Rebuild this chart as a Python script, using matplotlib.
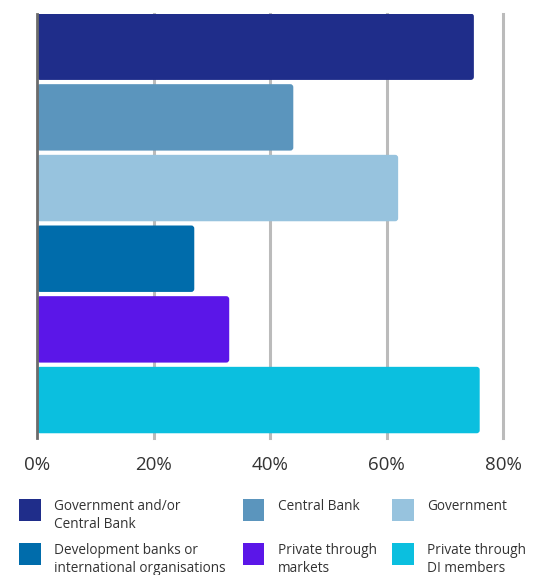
import matplotlib
matplotlib.use("Agg")
import matplotlib.pyplot as plt
from matplotlib.patches import FancyBboxPatch, Rectangle

plt.rcParams['font.family'] = ['Open Sans', 'DejaVu Sans']

# ---- данные ----
categories = [
    'Government and/or\nCentral Bank',
    'Central Bank',
    'Government',
    'Development banks or\ninternational organisations',
    'Private through\nmarkets',
    'Private through\nDI members',
]
values = [75, 44, 62, 27, 33, 76]
colors = ['#1f2d8a', '#5b95bd', '#97c3de', '#006cab', '#5b16e8', '#0bbfdf']
xticks = [0, 20, 40, 60, 80]
xtick_labels = ['0%', '20%', '40%', '60%', '80%']

fig = plt.figure(figsize=(5.36, 5.75), dpi=100)
ax = fig.add_axes([37 / 536, 1 - 437.5 / 575, 466 / 536, 424 / 575])

ypos = list(range(len(values)))
bars = ax.barh(ypos, values, height=0.94, color=colors, zorder=3)

ax.set_xlim(0, 80)
ax.set_ylim(len(values) - 0.47, -0.47)

# скругляем углы столбиков
x_per_px = 80 / 466
y_per_px = (len(values) - 0.06) / 424
for b in bars:
    b.set_visible(False)
    p = FancyBboxPatch((b.get_x(), b.get_y()), b.get_width(), b.get_height(),
                       boxstyle=f"round,pad=0,rounding_size={3 * x_per_px}",
                       mutation_aspect=y_per_px / x_per_px,
                       facecolor=b.get_facecolor(), edgecolor='none', zorder=3)
    ax.add_patch(p)

for x in xticks[1:]:
    ax.axvline(x, color='#bbbbbb', linewidth=2.2, zorder=1, clip_on=False)
ax.axvline(0, color='#6b6b6b', linewidth=2, zorder=4, clip_on=False)

ax.set_xticks(xticks)
ax.set_xticklabels(xtick_labels, fontsize=13.5, color='#333333')
ax.tick_params(axis='x', length=0, pad=13.5)
ax.set_yticks([])
for s in ax.spines.values():
    s.set_visible(False)

# ---- легенда ----
col_x = [19, 242.5, 392]
row_y = [499, 543]
sq = 21.7
W, H = 536, 575
for i, (lab, c) in enumerate(zip(categories, colors)):
    cx = col_x[i % 3]
    ry = row_y[i // 3]
    fig.patches.append(Rectangle((cx / W, 1 - (ry + sq) / H), sq / W, sq / H,
                                 transform=fig.transFigure, facecolor=c,
                                 edgecolor='none'))
    fig.text((cx + 35) / W, 1 - (ry + 0.5) / H, lab, fontsize=9.8,
             color='#333333', va='top', ha='left', linespacing=1.25)

fig.savefig('out.png', dpi=100)
